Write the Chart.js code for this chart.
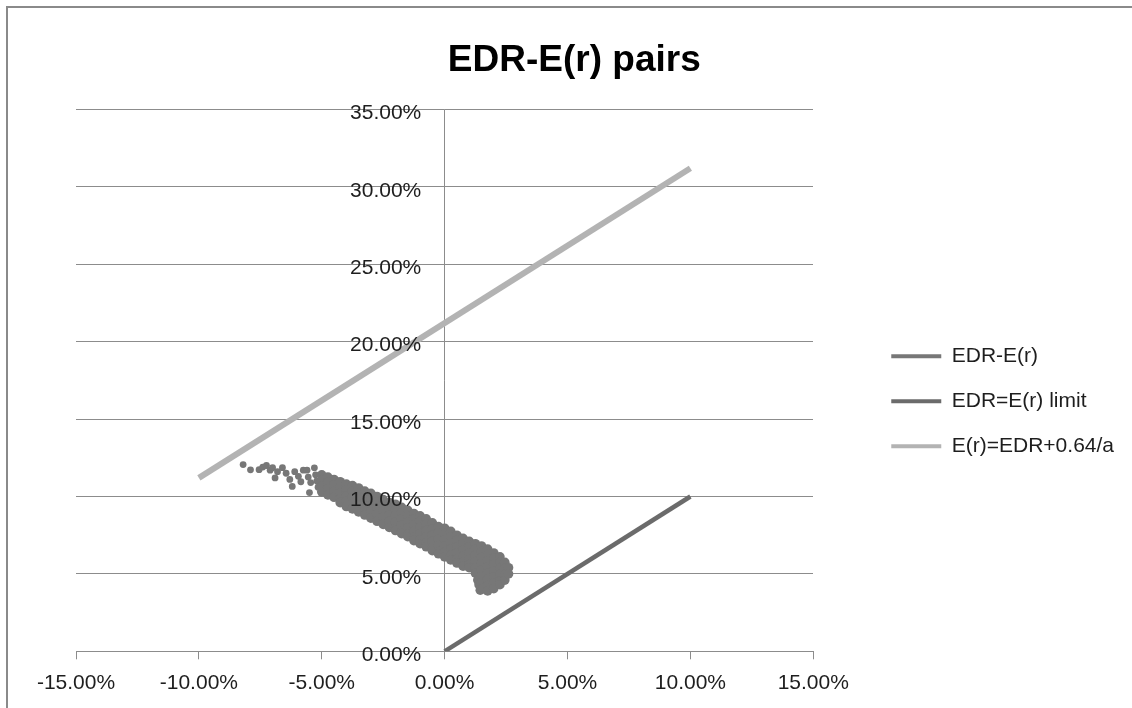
<!DOCTYPE html>
<html>
<head>
<meta charset="utf-8">
<script src="https://cdn.jsdelivr.net/npm/chart.js@4.4.1/dist/chart.umd.min.js"></script>
<style>
  html, body { margin: 0; padding: 0; background: #fff; overflow: hidden; }
  #frame { position: absolute; left: 6px; top: 6px; width: 1400px; height: 1000px; border: 2px solid #8a8a8a; }
  #wrap { position: absolute; left: 0; top: 0; width: 1132px; height: 708px; }
</style>
</head>
<body>
<div id="frame"></div>
<div id="wrap"><canvas id="chart" width="1132" height="708"></canvas></div>
<script>
const seriesNames = ['EDR-E(r)', 'EDR=E(r) limit', 'E(r)=EDR+0.64/a'];
const seriesColors = ['#777777', '#6b6b6b', '#b3b3b3'];

// EDR (x, %) vs E(r) (y, %) pairs, read off the cloud column by column
// first 25 are the loose points at the upper-left end
const edrPairs = [
  [-8.2, 12.06], [-7.9, 11.72], [-7.55, 11.73], [-7.4, 11.9], [-7.25, 12.0], [-7.1, 11.7],
  [-7.0, 11.86], [-6.9, 11.2], [-6.8, 11.6], [-6.6, 11.86], [-6.45, 11.5], [-6.3, 11.1],
  [-6.2, 10.65], [-6.1, 11.6], [-5.95, 11.3], [-5.85, 10.95], [-5.75, 11.7], [-5.6, 11.7],
  [-5.55, 11.25], [-5.5, 10.25], [-5.45, 10.9], [-5.3, 11.85], [-5.25, 11.4], [-5.2, 11.0],
  [-5.15, 10.6],
  [-5.0, 11.4], [-5.0, 11.05], [-5.0, 10.65], [-5.0, 10.3],
  [-4.75, 11.25], [-4.75, 10.9], [-4.75, 10.5], [-4.75, 10.1],
  [-4.5, 11.1], [-4.5, 10.75], [-4.5, 10.35], [-4.5, 9.95],
  [-4.25, 10.95], [-4.25, 10.6], [-4.25, 10.2], [-4.25, 9.85], [-4.25, 9.6],
  [-4.0, 10.8], [-4.0, 10.45], [-4.0, 10.05], [-4.0, 9.7], [-4.0, 9.35],
  [-3.75, 10.7], [-3.75, 10.35], [-3.75, 9.95], [-3.75, 9.55], [-3.75, 9.2],
  [-3.5, 10.55], [-3.5, 10.2], [-3.5, 9.85], [-3.5, 9.45], [-3.5, 9.0],
  [-3.25, 10.35], [-3.25, 10.0], [-3.25, 9.6], [-3.25, 9.2], [-3.25, 8.8],
  [-3.0, 10.2], [-3.0, 9.85], [-3.0, 9.45], [-3.0, 9.05], [-3.0, 8.6],
  [-2.75, 10.0], [-2.75, 9.65], [-2.75, 9.25], [-2.75, 8.85], [-2.75, 8.4],
  [-2.5, 9.8], [-2.5, 9.45], [-2.5, 9.05], [-2.5, 8.65], [-2.5, 8.2],
  [-2.25, 9.6], [-2.25, 9.2], [-2.25, 8.8], [-2.25, 8.4], [-2.25, 8.0],
  [-2.0, 9.5], [-2.0, 9.15], [-2.0, 8.75], [-2.0, 8.35], [-2.0, 7.95], [-2.0, 7.8],
  [-1.75, 9.3], [-1.75, 8.95], [-1.75, 8.55], [-1.75, 8.15], [-1.75, 7.75], [-1.75, 7.6],
  [-1.5, 9.1], [-1.5, 8.75], [-1.5, 8.35], [-1.5, 7.95], [-1.5, 7.55], [-1.5, 7.4],
  [-1.25, 8.9], [-1.25, 8.55], [-1.25, 8.15], [-1.25, 7.75], [-1.25, 7.35], [-1.25, 7.15],
  [-1.0, 8.75], [-1.0, 8.4], [-1.0, 8.0], [-1.0, 7.6], [-1.0, 7.2], [-1.0, 6.95],
  [-0.75, 8.55], [-0.75, 8.2], [-0.75, 7.8], [-0.75, 7.4], [-0.75, 7.0], [-0.75, 6.75],
  [-0.5, 8.3], [-0.5, 7.9], [-0.5, 7.5], [-0.5, 7.1], [-0.5, 6.7], [-0.5, 6.5],
  [-0.25, 8.05], [-0.25, 7.65], [-0.25, 7.25], [-0.25, 6.85], [-0.25, 6.45], [-0.25, 6.3],
  [0.0, 7.95], [0.0, 7.6], [0.0, 7.2], [0.0, 6.8], [0.0, 6.4], [0.0, 6.1],
  [0.25, 7.75], [0.25, 7.4], [0.25, 7.0], [0.25, 6.6], [0.25, 6.2], [0.25, 5.9],
  [0.5, 7.5], [0.5, 7.15], [0.5, 6.75], [0.5, 6.35], [0.5, 5.95], [0.5, 5.7],
  [0.75, 7.3], [0.75, 6.95], [0.75, 6.55], [0.75, 6.15], [0.75, 5.75], [0.75, 5.5],
  [1.0, 7.1], [1.0, 6.75], [1.0, 6.35], [1.0, 5.95], [1.0, 5.6], [1.0, 5.4],
  [1.25, 6.95], [1.25, 6.6], [1.25, 6.2], [1.25, 5.8], [1.25, 5.4], [1.25, 5.05],
  [1.35, 4.6], [1.4, 4.3], [1.45, 3.95],
  [1.5, 6.8], [1.5, 6.45], [1.5, 6.05], [1.5, 5.65], [1.5, 5.25], [1.5, 4.85], [1.5, 4.45], [1.55, 4.05],
  [1.75, 6.6], [1.75, 6.25], [1.75, 5.85], [1.75, 5.45], [1.75, 5.05], [1.75, 4.65], [1.75, 4.25], [1.75, 3.9],
  [2.0, 6.35], [2.0, 6.0], [2.0, 5.6], [2.0, 5.2], [2.0, 4.8], [2.0, 4.4], [2.0, 4.05],
  [2.25, 6.1], [2.25, 5.75], [2.25, 5.35], [2.25, 4.95], [2.25, 4.55], [2.25, 4.3],
  [2.45, 5.75], [2.45, 5.35], [2.45, 4.95], [2.45, 4.6],
  [2.6, 5.4], [2.6, 5.0]
];

const limitX = [0, 10];
const limitY = [0, 10];
const boundX = [-10, 10];
const boundY = [11.2, 31.2];

const xTicks = [-15, -10, -5, 0, 5, 10, 15];
const yTicks = [0, 5, 10, 15, 20, 25, 30, 35];

const pct = v => v.toFixed(2) + '%';
const toXY = (xs, ys) => xs.map((x, i) => ({ x: x, y: ys[i] }));

const tickFont = { family: 'Liberation Sans', size: 21 };
const textColor = '#1e1e1e';
const gridColor = '#8c8c8c';

new Chart(document.getElementById('chart'), {
    type: 'scatter',
    data: {
        datasets: [
            {
                label: seriesNames[0],
                data: edrPairs.map(p => ({ x: p[0], y: p[1] })),
                backgroundColor: seriesColors[0],
                borderColor: seriesColors[0],
                pointRadius: c => c.dataIndex < 25 ? 3.4 : 4.8,
                pointBorderWidth: 0,
                showLine: false
            },
            {
                label: seriesNames[1],
                data: toXY(limitX, limitY),
                borderColor: seriesColors[1],
                backgroundColor: seriesColors[1],
                borderWidth: 4.5,
                pointRadius: 0,
                showLine: true
            },
            {
                label: seriesNames[2],
                data: toXY(boundX, boundY),
                borderColor: seriesColors[2],
                backgroundColor: seriesColors[2],
                borderWidth: 6,
                pointRadius: 0,
                showLine: true
            }
        ]
    },
    options: {
        responsive: false,
        animation: false,
        devicePixelRatio: 1,
        events: [],
        layout: { padding: { left: 76, right: 8, top: 0, bottom: 1.5 } },
        plugins: {
            tooltip: { enabled: false },
            title: {
                display: true,
                // trailing spaces pull the centred title left, as in the original
                text: 'EDR-E(r) pairs     ',
                color: '#000',
                font: { family: 'Liberation Sans', size: 37, weight: 'bold' },
                padding: { top: 39, bottom: 26 }
            },
            legend: {
                position: 'right',
                fullSize: false,
                title: { display: true, text: '', font: { size: 10 }, padding: { top: 30, bottom: 0 } },
                labels: {
                    color: textColor,
                    font: tickFont,
                    usePointStyle: true,
                    pointStyleWidth: 50,
                    padding: 24,
                    generateLabels: chart => chart.data.datasets.map((ds, i) => ({
                        text: ds.label,
                        fontColor: textColor,
                        strokeStyle: seriesColors[i],
                        fillStyle: seriesColors[i],
                        lineWidth: 4,
                        pointStyle: 'line',
                        datasetIndex: i,
                        hidden: false
                    }))
                }
            }
        },
        scales: {
            x: {
                type: 'linear',
                position: 'bottom',
                min: xTicks[0],
                max: xTicks[xTicks.length - 1],
                afterBuildTicks: s => { s.ticks = xTicks.map(v => ({ value: v })); },
                ticks: { callback: v => pct(v), font: tickFont, color: textColor, padding: 11, maxRotation: 0 },
                grid: {
                    drawOnChartArea: true,
                    color: c => (c.tick && c.tick.value === 0) ? gridColor : 'rgba(0,0,0,0)',
                    tickColor: gridColor,
                    tickLength: 8
                },
                border: { color: gridColor }
            },
            y: {
                type: 'linear',
                // sits on the right to hold the gap before the legend; mirrored labels are pulled back to x = 0
                position: 'right',
                min: yTicks[0],
                max: yTicks[yTicks.length - 1],
                afterBuildTicks: s => { s.ticks = yTicks.map(v => ({ value: v })); },
                ticks: {
                    callback: v => pct(v), font: tickFont, color: textColor,
                    mirror: true, crossAlign: 'near', padding: -392, labelOffset: 4, z: 1
                },
                grid: { color: gridColor, drawTicks: false },
                border: { display: false },
                afterFit: s => { s.width = 54; }
            }
        }
    }
});
</script>
</body>
</html>
